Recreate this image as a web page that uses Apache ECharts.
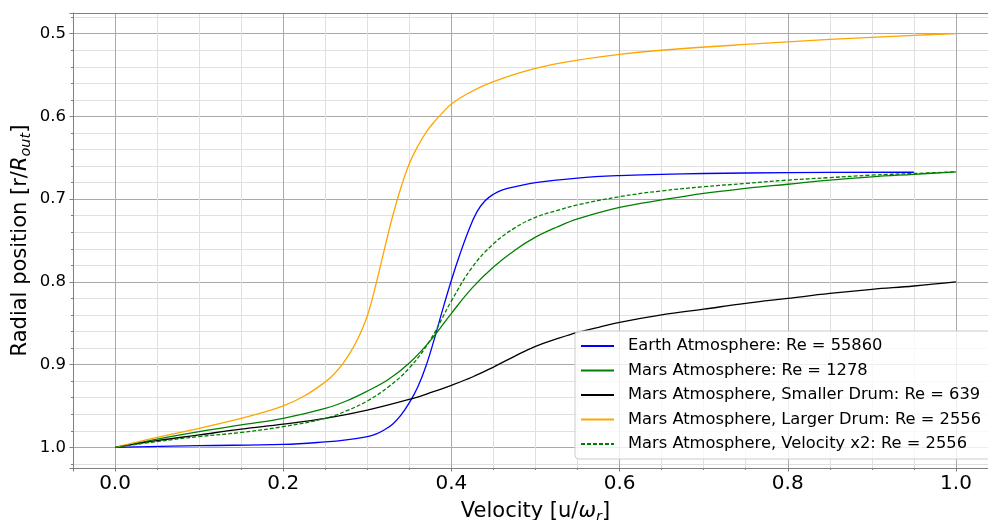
<!DOCTYPE html>
<html>
<head>
<meta charset="utf-8">
<script src="https://cdn.jsdelivr.net/npm/echarts@6/dist/echarts.min.js"></script>
<style>
  html, body { margin: 0; padding: 0; background: #fff; }
  #chart { width: 988px; height: 520px; }
</style>
</head>
<body>
<div id="chart"></div>
<script>
// Radial profiles: [velocity u/ω_r, radial position r/R_out]
const earthAtm = [
  [0, 1.0], [0.1, 0.998], [0.2, 0.9965], [0.25, 0.9935], [0.275, 0.991], [0.3, 0.987],
  [0.31, 0.984], [0.32, 0.979], [0.33, 0.972], [0.34, 0.961], [0.35, 0.946],
  [0.36, 0.927], [0.37, 0.901], [0.38, 0.868], [0.39, 0.832], [0.4, 0.798],
  [0.41, 0.767], [0.42, 0.739], [0.43, 0.716], [0.44, 0.702], [0.45, 0.694],
  [0.46, 0.689], [0.48, 0.684], [0.5, 0.680], [0.55, 0.6745], [0.6, 0.6715],
  [0.65, 0.670], [0.7, 0.669], [0.8, 0.668], [0.95, 0.6675]
];
const marsAtm = [
  [0, 1.0], [0.05, 0.990], [0.1, 0.981], [0.15, 0.973], [0.2, 0.965], [0.25, 0.953],
  [0.275, 0.944], [0.3, 0.932], [0.325, 0.918], [0.35, 0.898], [0.375, 0.871],
  [0.4, 0.838], [0.425, 0.807], [0.45, 0.782], [0.475, 0.762], [0.5, 0.746],
  [0.525, 0.734], [0.55, 0.724], [0.6, 0.710], [0.65, 0.701], [0.7, 0.693],
  [0.75, 0.687], [0.8, 0.682], [0.85, 0.677], [0.9, 0.673], [0.95, 0.670], [1.0, 0.667]
];
const marsSmallDrum = [
  [0, 1.0], [0.05, 0.992], [0.1, 0.985], [0.15, 0.978], [0.2, 0.972], [0.25, 0.965],
  [0.3, 0.955], [0.35, 0.942], [0.375, 0.934], [0.4, 0.925], [0.425, 0.915],
  [0.45, 0.903], [0.475, 0.890], [0.5, 0.878], [0.525, 0.869], [0.55, 0.861],
  [0.575, 0.855], [0.6, 0.849], [0.65, 0.840], [0.7, 0.833], [0.75, 0.826],
  [0.8, 0.820], [0.85, 0.814], [0.9, 0.809], [0.95, 0.805], [1.0, 0.800]
];
const marsLargeDrum = [
  [0, 1.0], [0.05, 0.988], [0.1, 0.977], [0.15, 0.965], [0.175, 0.958], [0.2, 0.950],
  [0.225, 0.938], [0.25, 0.921], [0.26, 0.912], [0.27, 0.900], [0.28, 0.885],
  [0.29, 0.866], [0.3, 0.841], [0.31, 0.804], [0.32, 0.762], [0.33, 0.721],
  [0.34, 0.686], [0.35, 0.657], [0.36, 0.636], [0.37, 0.619], [0.38, 0.606],
  [0.39, 0.595], [0.4, 0.585], [0.42, 0.572], [0.45, 0.558], [0.5, 0.542],
  [0.55, 0.532], [0.6, 0.525], [0.65, 0.520], [0.75, 0.513], [0.85, 0.507],
  [0.95, 0.502], [1.0, 0.500]
];
const marsVelocityX2 = [
  [0, 1.0], [0.05, 0.993], [0.1, 0.987], [0.15, 0.982], [0.2, 0.975], [0.25, 0.965],
  [0.275, 0.956], [0.3, 0.944], [0.325, 0.927], [0.35, 0.904], [0.375, 0.870],
  [0.4, 0.823], [0.425, 0.782], [0.45, 0.754], [0.475, 0.735], [0.5, 0.722],
  [0.525, 0.714], [0.55, 0.707], [0.6, 0.697], [0.65, 0.690], [0.7, 0.685],
  [0.75, 0.681], [0.8, 0.677], [0.85, 0.674], [0.9, 0.671], [0.95, 0.669], [1.0, 0.667]
];

const seriesNames = [
  'Earth Atmosphere: Re = 55860',
  'Mars Atmosphere: Re = 1278',
  'Mars Atmosphere, Smaller Drum: Re = 639',
  'Mars Atmosphere, Larger Drum: Re = 2556',
  'Mars Atmosphere, Velocity x2: Re = 2556'
];

const xTicks = [0.0, 0.2, 0.4, 0.6, 0.8, 1.0];
const yTicks = [0.5, 0.6, 0.7, 0.8, 0.9, 1.0];

const FONT = 'DejaVu Sans';
const SPINE = '#808080';
const MAJOR_GRID = '#a9a9a9';
const MINOR_GRID = '#e0e0e0';

function tickLabel(list) {
  return function (v) {
    for (const t of list) {
      if (Math.abs(v - t) < 1e-6) return t.toFixed(1);
    }
    return '';
  };
}

function line(name, data, color, dashed) {
  return {
    name: name,
    type: 'line',
    data: data,
    symbol: 'none',
    showSymbol: false,
    smooth: 0.4,
    lineStyle: { color: color, width: 1.3, type: dashed ? [4, 2] : 'solid' },
    itemStyle: { color: color }
  };
}

const axisNameStyle = {
  fontFamily: FONT, fontSize: 21, color: '#000', lineHeight: 26,
  rich: {
    it: { fontFamily: FONT, fontSize: 21, fontStyle: 'italic', color: '#000', lineHeight: 26 },
    sub: { fontFamily: FONT, fontSize: 14.5, fontStyle: 'italic', color: '#000', lineHeight: 15, verticalAlign: 'bottom' }
  }
};

const chart = echarts.init(document.getElementById('chart'), null, { renderer: 'canvas' });
chart.setOption({
  animation: false,
  backgroundColor: '#ffffff',
  grid: { left: 73, top: 13, width: 925, height: 455, containLabel: false, outerBoundsMode: 'none' },
  legend: {
    orient: 'vertical',
    left: 575,
    top: 331,
    padding: [6, 10, 6, 5],
    itemWidth: 33,
    itemHeight: 14,
    itemGap: 6.5,
    itemStyle: { opacity: 0 },
    backgroundColor: 'rgba(255,255,255,0.8)',
    borderColor: '#cccccc',
    borderWidth: 1,
    borderRadius: 4,
    textStyle: { fontFamily: FONT, fontSize: 16.3, color: '#000', lineHeight: 18, padding: [0, 0, 0, 9] },
    data: seriesNames
  },
  xAxis: [{
    type: 'value',
    min: -0.05, max: 1.05,
    minInterval: 0.2, maxInterval: 0.2,
    name: 'Velocity [u/{it|ω}{sub|r}]',
    nameLocation: 'middle',
    nameGap: 27,
    nameTextStyle: axisNameStyle,
    axisLine: { show: true, onZero: false, lineStyle: { color: SPINE, width: 1 } },
    axisTick: { show: true, length: 3.5, lineStyle: { color: SPINE } },
    minorTick: { show: true, splitNumber: 4, length: 2, lineStyle: { color: SPINE } },
    splitLine: { show: true, lineStyle: { color: MAJOR_GRID, width: 1 } },
    minorSplitLine: { show: true, lineStyle: { color: MINOR_GRID, width: 1 } },
    axisLabel: { fontFamily: FONT, fontSize: 20, color: '#000', margin: 6, formatter: tickLabel(xTicks) }
  }, {
    type: 'value',
    position: 'top',
    min: -0.05, max: 1.05,
    axisLine: { show: true, onZero: false, lineStyle: { color: SPINE, width: 1 } },
    axisTick: { show: false },
    axisLabel: { show: false },
    splitLine: { show: false }
  }],
  yAxis: {
    type: 'value',
    inverse: true,
    min: 0.475, max: 1.025,
    minInterval: 0.1, maxInterval: 0.1,
    name: 'Radial position [r/{it|R}{sub|out}]',
    nameLocation: 'middle',
    nameGap: 39,
    nameMoveOverlap: false,
    nameTextStyle: axisNameStyle,
    axisLine: { show: true, onZero: false, lineStyle: { color: SPINE, width: 1 } },
    axisTick: { show: true, length: 3.5, lineStyle: { color: SPINE } },
    minorTick: { show: true, splitNumber: 5, length: 2, lineStyle: { color: SPINE } },
    splitLine: { show: true, lineStyle: { color: MAJOR_GRID, width: 1 } },
    minorSplitLine: { show: true, lineStyle: { color: MINOR_GRID, width: 1 } },
    axisLabel: { fontFamily: FONT, fontSize: 16.5, color: '#000', margin: 7, formatter: tickLabel(yTicks) }
  },
  series: [
    line(seriesNames[0], earthAtm, '#0000ff', false),
    line(seriesNames[1], marsAtm, '#008000', false),
    line(seriesNames[2], marsSmallDrum, '#000000', false),
    line(seriesNames[3], marsLargeDrum, '#ffa500', false),
    line(seriesNames[4], marsVelocityX2, '#008000', true)
  ]
});
</script>
</body>
</html>
